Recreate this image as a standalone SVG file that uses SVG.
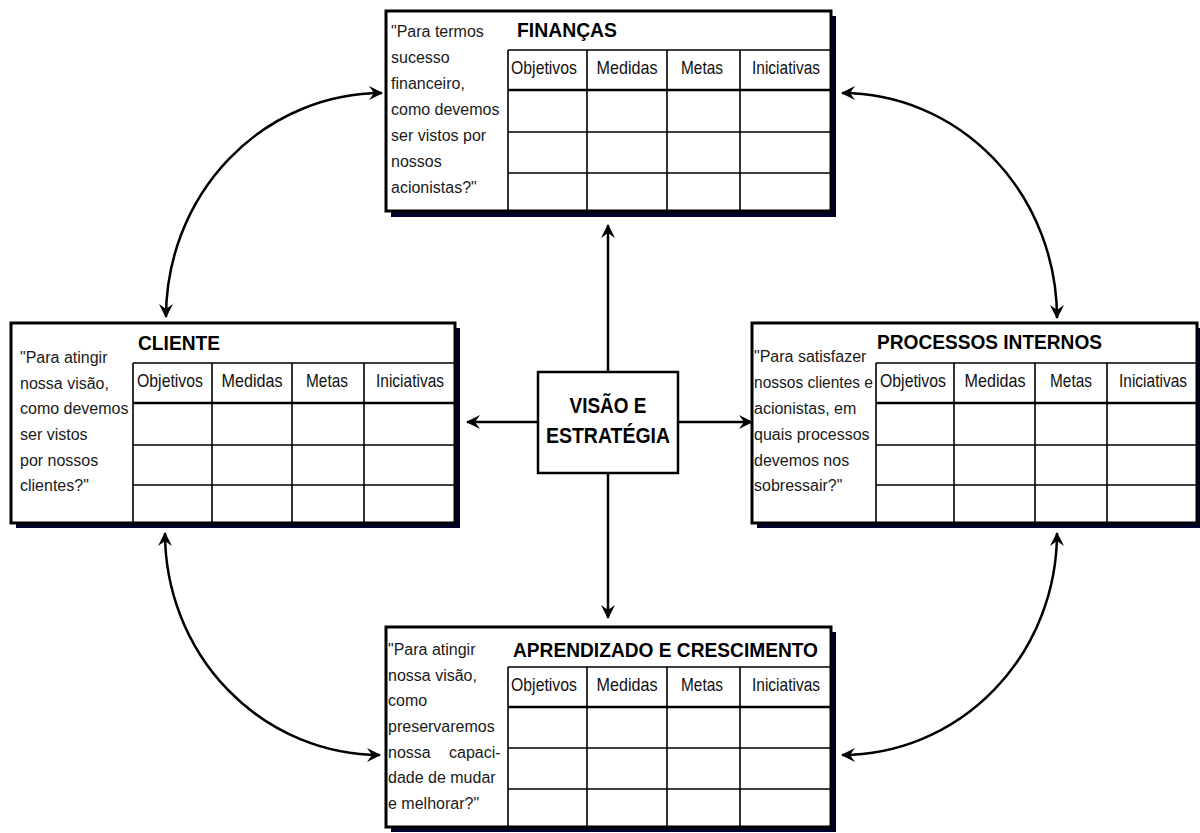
<svg xmlns="http://www.w3.org/2000/svg" width="1200" height="833" viewBox="0 0 1200 833">
<style>
.bg{fill:#fff}
.shadow{fill:#00002e}
.frame{fill:#fff;stroke:#000;stroke-width:3}
.grid{stroke:#000;stroke-width:1.6;fill:none}
.hdr{stroke:#000;stroke-width:2.6;fill:none}
.q{font-family:"Liberation Sans",Arial,sans-serif;font-size:16px;fill:#1a1a1a}
.title{font-family:"Liberation Sans",Arial,sans-serif;font-size:20px;font-weight:bold;fill:#000}
.col{font-family:"Liberation Sans",Arial,sans-serif;font-size:19px;fill:#111;text-anchor:middle}
.center{font-family:"Liberation Sans",Arial,sans-serif;font-size:22px;font-weight:bold;fill:#000;text-anchor:middle}
.conn{stroke:#000;stroke-width:2.5;fill:none;marker-end:url(#ah)}
.dbl{marker-start:url(#ah)}
</style>
<defs>
<marker id="ah" viewBox="0 0 14 14" refX="13" refY="7" markerWidth="14" markerHeight="14" markerUnits="userSpaceOnUse" orient="auto-start-reverse">
<path d="M0,0 L14,7 L0,14 L5,7 Z" fill="#000"/>
</marker>
</defs>
<rect class="bg" x="0" y="0" width="1200" height="833"/>

<g id="connectors">
<line class="conn" x1="608" y1="372" x2="608" y2="225"/>
<line class="conn" x1="608" y1="473" x2="608" y2="618"/>
<line class="conn" x1="538" y1="422" x2="467" y2="422"/>
<line class="conn" x1="678" y1="422" x2="752" y2="422"/>
<path class="conn dbl" d="M382,93 A216,224 0 0 0 166,317"/>
<path class="conn dbl" d="M842,93 A215,225 0 0 1 1057,318"/>
<path class="conn dbl" d="M165,533 A215,222 0 0 0 380,755"/>
<path class="conn dbl" d="M1057,533 A215,222 0 0 1 842,755"/>
</g>

<g id="financas">
<rect class="shadow" x="391" y="16" width="445" height="201"/>
<rect class="frame" x="386" y="11" width="445" height="200"/>
<path class="grid" d="M508,50 H831 M508,50 V211 M508,132 H831 M508,173 H831 M587,50 V211 M667,50 V211 M740,50 V211"/>
<path class="hdr" d="M508,90 H831"/>
<text class="title" x="517" y="37" textLength="100" lengthAdjust="spacingAndGlyphs">FINANÇAS</text>
<text class="col" x="544" y="74" textLength="66" lengthAdjust="spacingAndGlyphs">Objetivos</text>
<text class="col" x="627" y="74" textLength="61" lengthAdjust="spacingAndGlyphs">Medidas</text>
<text class="col" x="702" y="74" textLength="42" lengthAdjust="spacingAndGlyphs">Metas</text>
<text class="col" x="786" y="74" textLength="68" lengthAdjust="spacingAndGlyphs">Iniciativas</text>
<text class="q" x="391">
<tspan x="391" y="37">"Para termos</tspan>
<tspan x="391" y="63">sucesso</tspan>
<tspan x="391" y="89">financeiro,</tspan>
<tspan x="391" y="115">como devemos</tspan>
<tspan x="391" y="141">ser vistos por</tspan>
<tspan x="391" y="167">nossos</tspan>
<tspan x="391" y="193">acionistas?"</tspan>
</text>
</g>

<g id="cliente">
<rect class="shadow" x="16" y="328" width="444" height="200"/>
<rect class="frame" x="11" y="323" width="444" height="200"/>
<path class="grid" d="M133,363 H455 M133,363 V523 M133,445 H455 M133,485 H455 M212,363 V523 M292,363 V523 M364,363 V523"/>
<path class="hdr" d="M133,403 H455"/>
<text class="title" x="138" y="350" textLength="82" lengthAdjust="spacingAndGlyphs">CLIENTE</text>
<text class="col" x="170" y="387" textLength="66" lengthAdjust="spacingAndGlyphs">Objetivos</text>
<text class="col" x="252" y="387" textLength="61" lengthAdjust="spacingAndGlyphs">Medidas</text>
<text class="col" x="327" y="387" textLength="42" lengthAdjust="spacingAndGlyphs">Metas</text>
<text class="col" x="410" y="387" textLength="68" lengthAdjust="spacingAndGlyphs">Iniciativas</text>
<text class="q" x="20">
<tspan x="20" y="363">"Para atingir</tspan>
<tspan x="20" y="389">nossa visão,</tspan>
<tspan x="20" y="414">como devemos</tspan>
<tspan x="20" y="440">ser vistos</tspan>
<tspan x="20" y="466">por nossos</tspan>
<tspan x="20" y="491">clientes?"</tspan>
</text>
</g>

<g id="processos">
<rect class="shadow" x="757" y="328" width="445" height="200"/>
<rect class="frame" x="752" y="323" width="445" height="200"/>
<path class="grid" d="M876,363 H1197 M876,363 V523 M876,445 H1197 M876,485 H1197 M954,363 V523 M1035,363 V523 M1107,363 V523"/>
<path class="hdr" d="M876,403 H1197"/>
<text class="title" x="877" y="349" textLength="225" lengthAdjust="spacingAndGlyphs">PROCESSOS INTERNOS</text>
<text class="col" x="913" y="387" textLength="66" lengthAdjust="spacingAndGlyphs">Objetivos</text>
<text class="col" x="995" y="387" textLength="61" lengthAdjust="spacingAndGlyphs">Medidas</text>
<text class="col" x="1071" y="387" textLength="42" lengthAdjust="spacingAndGlyphs">Metas</text>
<text class="col" x="1153" y="387" textLength="68" lengthAdjust="spacingAndGlyphs">Iniciativas</text>
<text class="q" x="754">
<tspan x="754" y="362">"Para satisfazer</tspan>
<tspan x="754" y="388" textLength="119" lengthAdjust="spacingAndGlyphs">nossos clientes e</tspan>
<tspan x="754" y="414">acionistas, em</tspan>
<tspan x="754" y="440">quais processos</tspan>
<tspan x="754" y="466">devemos nos</tspan>
<tspan x="754" y="491">sobressair?"</tspan>
</text>
</g>

<g id="aprendizado">
<rect class="shadow" x="391" y="632" width="445" height="200"/>
<rect class="frame" x="386" y="627" width="445" height="200"/>
<path class="grid" d="M508,667 H831 M508,667 V827 M508,748 H831 M508,789 H831 M587,667 V827 M667,667 V827 M740,667 V827"/>
<path class="hdr" d="M508,707 H831"/>
<text class="title" x="513" y="657" textLength="305" lengthAdjust="spacingAndGlyphs">APRENDIZADO E CRESCIMENTO</text>
<text class="col" x="544" y="691" textLength="66" lengthAdjust="spacingAndGlyphs">Objetivos</text>
<text class="col" x="627" y="691" textLength="61" lengthAdjust="spacingAndGlyphs">Medidas</text>
<text class="col" x="702" y="691" textLength="42" lengthAdjust="spacingAndGlyphs">Metas</text>
<text class="col" x="786" y="691" textLength="68" lengthAdjust="spacingAndGlyphs">Iniciativas</text>
<text class="q" x="388">
<tspan x="388" y="655">"Para atingir</tspan>
<tspan x="388" y="681">nossa visão,</tspan>
<tspan x="388" y="706">como</tspan>
<tspan x="388" y="732">preservaremos</tspan>
<tspan x="388" y="758">nossa</tspan><tspan x="449" y="758">capaci-</tspan>
<tspan x="388" y="783">dade de mudar</tspan>
<tspan x="388" y="809">e melhorar?"</tspan>
</text>
</g>

<g id="visao">
<rect x="538" y="372" width="140" height="101" fill="#fff" stroke="#000" stroke-width="2.5"/>
<text class="center" x="608" y="413" textLength="77" lengthAdjust="spacingAndGlyphs">VISÃO E</text>
<text class="center" x="608" y="443" textLength="124" lengthAdjust="spacingAndGlyphs">ESTRATÉGIA</text>
</g>
</svg>
